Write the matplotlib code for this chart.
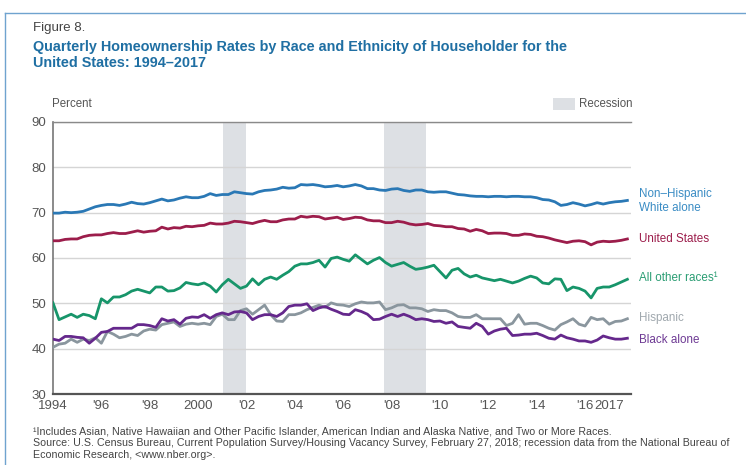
import numpy as np
import matplotlib.pyplot as plt
from matplotlib.lines import Line2D
from matplotlib.patches import Rectangle

plt.rcParams['font.family'] = ['Liberation Sans', 'DejaVu Sans']

# Quarterly homeownership rates, 1994 Q1 - 2017 Q4 (percent)
white_alone = [
    69.9, 69.9, 70.1, 70.0,  70.1, 70.3, 70.8, 71.3,  71.6, 71.8, 71.8, 71.6,
    71.9, 72.3, 72.0, 71.9,  72.2, 72.6, 73.0, 72.6,  72.8, 73.2, 73.5, 73.3,
    73.3, 73.6, 74.2, 73.8,  74.0, 74.0, 74.6, 74.4,  74.2, 74.1, 74.6, 74.9,
    75.0, 75.2, 75.6, 75.4,  75.5, 76.2, 76.1, 76.2,  76.0, 75.7, 75.8, 76.0,
    75.7, 75.9, 76.2, 75.9,  75.3, 75.3, 75.0, 74.9,  75.2, 75.3, 74.9, 74.7,
    75.0, 75.0, 74.6, 74.5,  74.6, 74.6, 74.3, 74.0,  73.9, 73.7, 73.6, 73.6,
    73.5, 73.6, 73.6, 73.5,  73.6, 73.6, 73.5, 73.5,  73.3, 72.9, 72.8, 72.4,
    71.6, 71.8, 72.2, 71.9,  71.5, 71.8, 72.2, 71.9,  72.2, 72.4, 72.5, 72.7]

united_states = [
    63.8, 63.8, 64.1, 64.2,  64.2, 64.7, 65.0, 65.1,  65.1, 65.4, 65.6, 65.4,
    65.4, 65.7, 66.0, 65.7,  65.9, 66.0, 66.8, 66.4,  66.7, 66.6, 67.0, 66.9,
    67.1, 67.2, 67.7, 67.5,  67.5, 67.7, 68.1, 68.0,  67.8, 67.6, 68.0, 68.3,
    68.0, 68.0, 68.4, 68.6,  68.6, 69.2, 69.0, 69.2,  69.1, 68.6, 68.8, 69.0,
    68.5, 68.7, 69.0, 68.9,  68.4, 68.2, 68.2, 67.8,  67.8, 68.1, 67.9, 67.5,
    67.3, 67.4, 67.6, 67.2,  67.1, 66.9, 66.9, 66.5,  66.4, 65.9, 66.3, 66.0,
    65.4, 65.5, 65.5, 65.4,  65.0, 65.0, 65.3, 65.2,  64.8, 64.7, 64.4, 64.0,
    63.7, 63.4, 63.7, 63.8,  63.6, 62.9, 63.5, 63.7,  63.6, 63.7, 63.9, 64.2]

other_races = [
    50.1, 46.4, 47.0, 47.6,  46.9, 47.6, 47.3, 46.6,  51.0, 50.1, 51.4, 51.4,
    51.9, 52.7, 53.1, 52.7,  52.3, 53.6, 53.6, 52.7,  52.8, 53.4, 54.6, 54.3,
    54.1, 54.5, 53.8, 52.5,  54.1, 55.3, 54.3, 53.3,  53.8, 55.4, 54.1, 55.3,
    55.8, 55.3, 56.2, 57.0,  58.2, 58.7, 58.7, 59.0,  59.5, 58.0, 59.9, 60.2,
    59.7, 59.3, 60.7, 59.7,  58.7, 59.5, 60.1, 59.0,  58.2, 58.6, 59.0, 58.2,
    57.5, 57.7, 58.0, 58.4,  57.0, 55.6, 57.3, 57.7,  56.5, 55.8, 56.2, 55.6,
    55.3, 55.0, 55.3, 54.9,  54.5, 54.9, 55.5, 56.0,  55.6, 54.5, 54.3, 55.4,
    55.3, 52.8, 53.6, 53.3,  52.7, 51.2, 53.3, 53.6,  53.6, 54.1, 54.7, 55.3]

hispanic = [
    40.3, 41.0, 41.2, 42.1,  41.4, 42.1, 41.8, 42.4,  41.2, 43.8, 43.2, 42.4,
    42.7, 43.2, 42.9, 43.9,  44.3, 44.1, 45.3, 45.6,  45.9, 44.9, 45.4, 45.6,
    45.4, 45.6, 45.3, 47.1,  47.6, 46.4, 46.4, 48.4,  48.8, 47.6, 48.6, 49.6,
    47.5, 46.1, 46.0, 47.5,  47.5, 47.9, 48.6, 49.1,  49.6, 49.1, 50.1, 49.7,
    49.6, 49.3, 49.9, 50.3,  50.1, 50.1, 50.3, 48.6,  49.0, 49.6, 49.7, 49.0,
    49.0, 48.8, 48.2, 48.6,  48.4, 48.4, 47.9, 47.1,  46.9, 46.9, 47.5, 46.6,
    46.6, 46.6, 46.6, 45.1,  45.6, 47.5, 45.4, 45.6,  45.6, 45.1, 44.5, 44.1,
    45.3, 45.9, 46.6, 45.4,  45.0, 46.9, 46.4, 46.6,  45.4, 46.0, 46.1, 46.6]

black_alone = [
    42.1, 41.8, 42.7, 42.7,  42.5, 42.4, 41.2, 42.3,  43.6, 43.8, 44.5, 44.5,
    44.5, 44.5, 45.3, 45.3,  45.1, 44.7, 46.6, 46.1,  46.4, 45.4, 46.7, 47.0,
    46.9, 47.5, 46.7, 47.5,  47.9, 47.5, 48.1, 48.2,  47.9, 46.4, 47.1, 47.5,
    47.5, 47.1, 47.9, 49.3,  49.6, 49.6, 49.9, 48.4,  49.0, 49.3, 48.7, 48.2,
    47.6, 47.5, 48.6, 48.2,  47.6, 46.4, 46.5, 47.1,  47.6, 47.1, 47.6, 47.1,
    46.4, 46.6, 46.4, 46.0,  46.1, 45.6, 45.9, 44.9,  44.7, 44.5, 45.6, 44.9,
    43.2, 43.9, 44.3, 44.5,  42.9, 43.0, 43.2, 43.2,  43.4, 42.9, 42.3, 42.1,
    43.0, 42.4, 42.1, 41.7,  41.7, 41.4, 41.9, 42.8,  42.4, 42.1, 42.1, 42.3]

recessions = [(2001.05, 2001.98), (2007.7, 2009.42)]
tick_years = [1994, 1996, 1998, 2000, 2002, 2004, 2006, 2008, 2010, 2012, 2014, 2016, 2017]
tick_labels = ['1994', "'96", "'98", '2000', "'02", "'04", "'06", "'08", "'10", "'12", "'14", "'16", '2017']

quarters = 1994 + np.arange(len(united_states)) / 4

W, H = 746, 465
fig = plt.figure(figsize=(W / 100, H / 100), dpi=100)
ax = fig.add_axes([53 / W, 1 - 394 / H, (631 - 53) / W, (394 - 122) / H])

for start, end in recessions:
    ax.axvspan(start, end, color='#dde0e4', lw=0, zorder=0)

ax.plot(quarters, white_alone, color='#2a78b5', lw=2.0, zorder=3)
ax.plot(quarters, united_states, color='#9c1d4b', lw=2.0, zorder=3)
ax.plot(quarters, other_races, color='#17956a', lw=2.0, zorder=3)
ax.plot(quarters, hispanic, color='#8a969e', lw=2.0, zorder=3)
ax.plot(quarters, black_alone, color='#65288c', lw=2.0, zorder=3)

ax.set_xlim(1994, 2017.9)
ax.set_ylim(30, 90)
ax.set_yticks(range(30, 91, 10))
ax.set_xticks(tick_years)
ax.set_xticklabels(tick_labels)
ax.grid(axis='y', color='#d5d5d5', lw=1.0, zorder=1)
ax.tick_params(length=0, labelsize=9.5, colors='#555555', pad=4)
ax.tick_params(axis='y', pad=5)

ax.spines['right'].set_visible(False)
ax.spines['top'].set_color('#8a8a8a')
ax.spines['left'].set_color('#777777')
ax.spines['bottom'].set_color('#555555')
ax.spines['top'].set_linewidth(1.0)
ax.spines['left'].set_linewidth(1.2)
ax.spines['bottom'].set_linewidth(1.6)

# frame lines
fig.add_artist(Line2D([5 / W, 5 / W], [0, 1 - 13 / H], color='#6fa3cf', lw=1.0))
fig.add_artist(Line2D([5 / W, 1], [1 - 13 / H, 1 - 13 / H], color='#6fa3cf', lw=1.0))

def fy(py):
    return 1 - py / H

fig.text(33 / W, fy(28), 'Figure 8.', fontsize=9.5, color='#444444', va='center')
fig.text(33 / W, fy(47), 'Quarterly Homeownership Rates by Race and Ethnicity of Householder for the',
         fontsize=10.4, fontweight='bold', color='#1f6fa3', va='center')
fig.text(33 / W, fy(63), 'United States: 1994\u20132017',
         fontsize=10.4, fontweight='bold', color='#1f6fa3', va='center')

fig.text(52 / W, fy(104), 'Percent', fontsize=8.3, color='#555555', va='center')
fig.add_artist(Rectangle((553 / W, fy(110)), 22 / W, 12 / H, transform=fig.transFigure,
                         color='#dde0e4', lw=0))
fig.text(579 / W, fy(104), 'Recession', fontsize=8.3, color='#555555', va='center')

fig.text(639 / W, fy(194), 'Non\u2013Hispanic', fontsize=8.4, color='#3a8cc4', va='center')
fig.text(639 / W, fy(208), 'White alone', fontsize=8.4, color='#3a8cc4', va='center')
fig.text(639 / W, fy(239), 'United States', fontsize=8.4, color='#9c1d4b', va='center')
fig.text(639 / W, fy(278), 'All other races\u00b9', fontsize=8.4, color='#2a9d73', va='center')
fig.text(639 / W, fy(318), 'Hispanic', fontsize=8.4, color='#a0a8ae', va='center')
fig.text(639 / W, fy(340), 'Black alone', fontsize=8.4, color='#6e3a94', va='center')

notes = [
    '\u00b9Includes Asian, Native Hawaiian and Other Pacific Islander, American Indian and Alaska Native, and Two or More Races.',
    'Source: U.S. Census Bureau, Current Population Survey/Housing Vacancy Survey, February 27, 2018; recession data from the National Bureau of',
    'Economic Research, <www.nber.org>.',
]
for k, line in enumerate(notes):
    fig.text(33 / W, fy(431 + 12 * k), line, fontsize=7.7, color='#444444', va='center')

fig.savefig('out.png', dpi=100)
